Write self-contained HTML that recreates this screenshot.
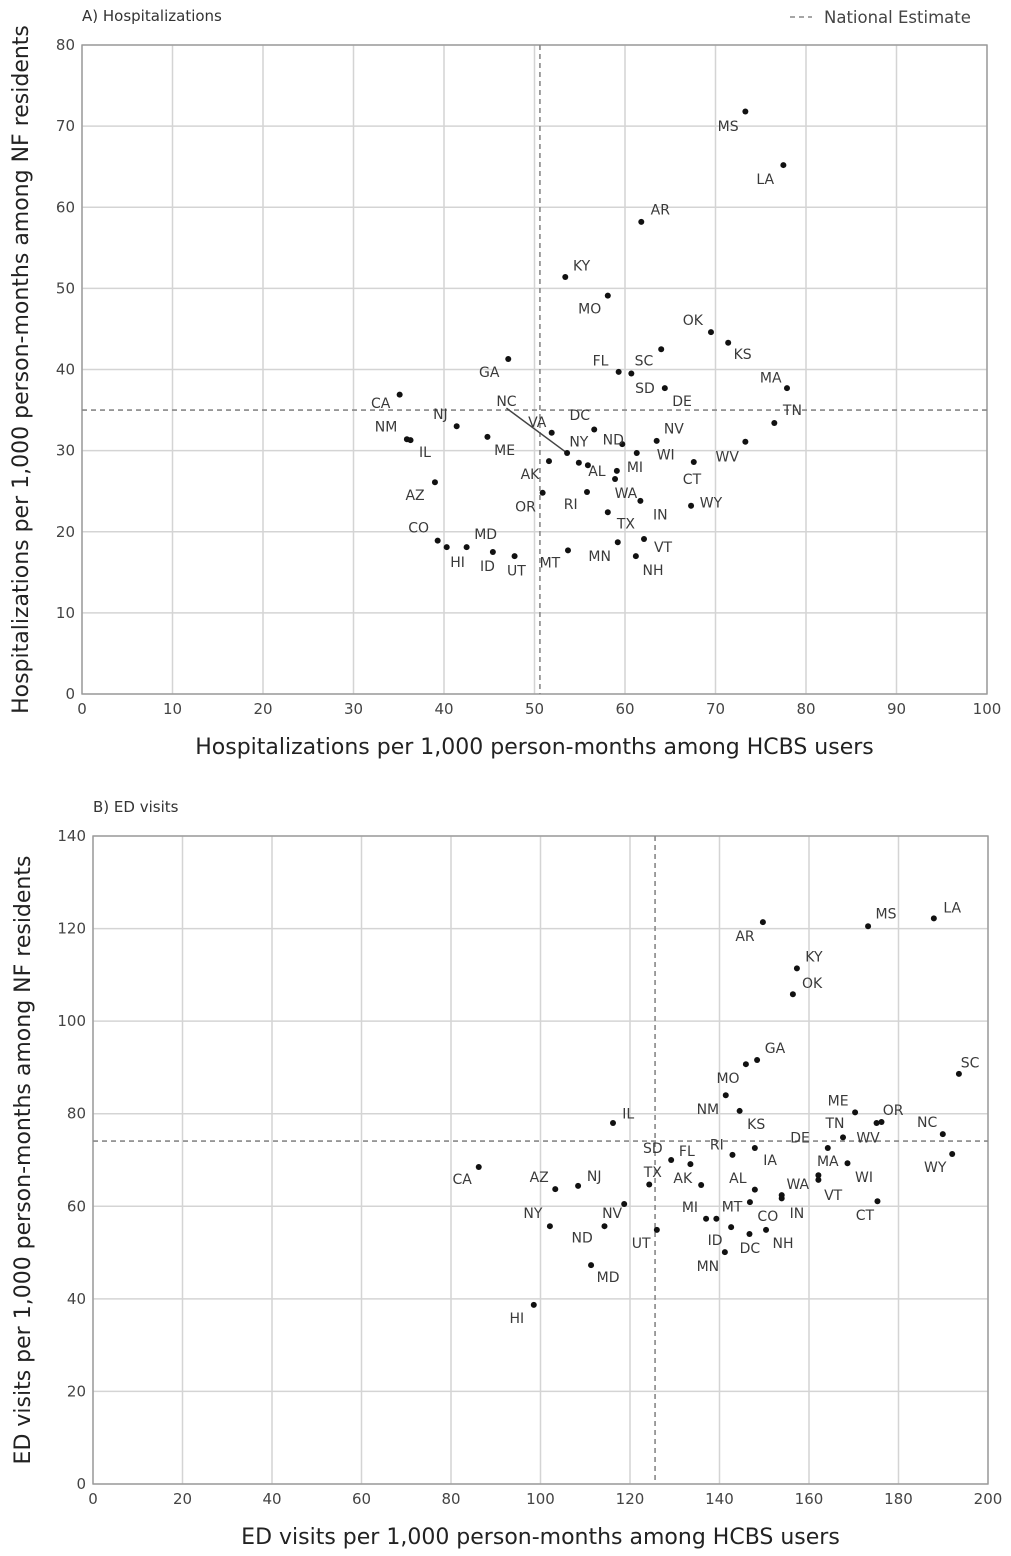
<!DOCTYPE html>
<html><head><meta charset="utf-8">
<style>
body{margin:0;background:#fff;}
svg{display:block;font-family:"DejaVu Sans","Liberation Sans",sans-serif;}
</style></head>
<body>
<svg id="chart" width="1011" height="1556" viewBox="0 0 1011 1556"></svg>
<script>
// ---------- Panel A data ----------
const statesA = ["MS","LA","AR","KY","MO","OK","KS","GA","SC","FL","SD","DE","MA","TN","WV","CA","NJ","NM","IL","NC","VA","DC","ND","NV","ME","WI","NY","AL","AK","MI","WA","IN","CT","AZ","OR","RI","WY","TX","CO","HI","MD","ID","UT","MT","MN","VT","NH"];
const hcbsA = [73.3,77.5,61.8,53.4,58.1,69.5,71.4,47.1,64.0,59.3,60.7,64.4,77.9,76.5,73.3,35.1,41.4,35.9,36.3,53.6,51.9,56.6,59.7,63.5,44.8,61.3,54.9,55.9,51.6,59.1,58.9,61.7,67.6,39.0,50.9,55.8,67.3,58.1,39.3,40.3,42.5,45.4,47.8,53.7,59.2,62.1,61.2];
const nfA = [71.8,65.2,58.2,51.4,49.1,44.6,43.3,41.3,42.5,39.7,39.5,37.7,37.7,33.4,31.1,36.9,33.0,31.4,31.3,29.7,32.2,32.6,30.8,31.2,31.7,29.7,28.5,28.2,28.7,27.5,26.5,23.8,28.6,26.1,24.8,24.9,23.2,22.4,18.9,18.1,18.1,17.5,17.0,17.7,18.7,19.1,17.0];
const labelXA = [71.4,75.5,63.9,55.2,56.1,67.5,73.0,45.0,62.1,57.3,62.2,66.3,76.1,78.5,71.3,33.0,39.6,33.6,37.9,46.9,50.3,55.0,58.7,65.4,46.7,64.5,54.9,56.9,49.5,61.1,60.1,63.9,67.4,36.8,49.0,54.0,69.5,60.1,37.2,41.5,44.6,44.8,48.0,51.7,57.2,64.2,63.1];
const labelYA = [70.0,63.5,59.7,52.8,47.5,46.1,41.9,39.7,41.1,41.1,37.7,36.1,39.0,35.0,29.3,35.9,34.5,33.0,29.8,36.1,33.5,34.4,31.4,32.7,30.1,29.5,31.1,27.5,27.1,28.0,24.8,22.1,26.5,24.5,23.1,23.4,23.6,21.0,20.5,16.3,19.7,15.8,15.2,16.2,17.0,18.1,15.3];
const nationalA = [50.6, 35.0];
const xTicksA = [0,10,20,30,40,50,60,70,80,90,100];
const yTicksA = [0,10,20,30,40,50,60,70,80];

// ---------- Panel B data ----------
const statesB = ["LA","MS","AR","KY","OK","GA","MO","SC","NM","KS","IL","ME","OR","WV","NC","WY","TN","DE","IA","RI","SD","FL","MA","CA","AZ","NJ","TX","AK","CO","AL","WA","VT","IN","WI","CT","NV","NY","ND","UT","MI","ID","MT","NH","DC","MN","MD","HI"];
const hcbsB = [187.9,173.2,149.7,157.3,156.4,148.4,145.9,193.5,141.4,144.5,116.2,170.3,175.1,176.2,189.9,192.0,167.6,164.2,147.9,142.9,129.2,133.5,168.6,86.2,103.3,108.4,124.3,135.9,147.9,146.8,162.1,162.1,153.9,153.9,175.3,118.7,102.1,114.3,126.0,137.0,139.3,142.6,150.4,146.7,141.2,111.3,98.5];
const nfB = [122.2,120.5,121.4,111.4,105.8,91.6,90.7,88.6,84.0,80.6,78.0,80.3,78.0,78.2,75.6,71.3,74.9,72.6,72.6,71.1,70.0,69.1,69.3,68.5,63.7,64.4,64.7,64.6,63.6,60.9,66.7,65.7,62.4,61.7,61.1,60.5,55.7,55.7,54.9,57.3,57.3,55.5,54.9,54.0,50.1,47.3,38.7];
const labelXB = [192.0,177.2,145.7,161.1,160.7,152.4,141.9,196.0,137.4,148.2,119.6,166.5,178.8,173.2,186.4,188.2,165.8,158.0,151.3,139.4,125.1,132.7,164.2,82.5,99.7,112.0,125.1,131.8,150.8,144.1,157.5,165.4,157.3,172.3,172.5,116.0,98.3,109.3,122.5,133.4,139.0,142.8,154.2,146.8,137.4,115.1,94.7];
const labelYB = [124.6,123.3,118.4,114.0,108.2,94.2,87.7,91.1,81.0,77.8,80.1,82.9,80.8,74.9,78.2,68.5,78.0,74.9,70.0,73.4,72.6,71.9,69.8,65.9,66.3,66.5,67.4,66.1,57.9,66.1,64.8,62.4,58.5,66.3,58.1,58.5,58.5,53.3,52.1,59.8,52.7,60.0,52.1,51.0,47.1,44.7,35.9];
const nationalB = [125.6, 74.1];
const xTicksB = [0,20,40,60,80,100,120,140,160,180,200];
const yTicksB = [0,20,40,60,80,100,120,140];

const NS = "http://www.w3.org/2000/svg";
const svg = document.getElementById("chart");
function mk(tag, attrs, parent){
  const e = document.createElementNS(NS, tag);
  for (const k in attrs) e.setAttribute(k, attrs[k]);
  (parent||svg).appendChild(e);
  return e;
}

function panel(cfg){
  const g = mk("g", {});
  
  
  const L=cfg.left,R=cfg.right,T=cfg.top,B=cfg.bottom;
  const sx = v => L + (v - cfg.xMin)/(cfg.xMax-cfg.xMin)*(R-L);
  const sy = v => B - (v - cfg.yMin)/(cfg.yMax-cfg.yMin)*(B-T);
  cfg.xTicks.forEach(t=>{
    const l = mk("line",{x1:sx(t),x2:sx(t),y1:T,y2:B,stroke:"#d4d4d4","stroke-width":1.5},g);
    
    
    const tx = mk("text",{x:sx(t),y:B+20,"text-anchor":"middle","font-size":15,fill:"#444"},g);
    tx.textContent = t;
    
    
  });
  cfg.yTicks.forEach(t=>{
    const l = mk("line",{x1:L,x2:R,y1:sy(t),y2:sy(t),stroke:"#d4d4d4","stroke-width":1.5},g);
    
    
    const tx = mk("text",{x:L-7,y:sy(t)+5,"text-anchor":"end","font-size":15,fill:"#444"},g);
    tx.textContent = t;
    
    
  });
  const fr = mk("rect",{x:L,y:T,width:R-L,height:B-T,fill:"none",stroke:"#999","stroke-width":1.4},g);
  
  
  const vl = mk("line",{x1:sx(cfg.nat[0]),x2:sx(cfg.nat[0]),y1:T,y2:B,stroke:"#888","stroke-width":1.6,"stroke-dasharray":"5,4"},g);
  
  
  const hl = mk("line",{x1:L,x2:R,y1:sy(cfg.nat[1]),y2:sy(cfg.nat[1]),stroke:"#888","stroke-width":1.6,"stroke-dasharray":"5,4"},g);
  
  
  cfg.leaders.forEach(st=>{
    const i = cfg.states.indexOf(st);
    const ln = mk("line",{x1:sx(cfg.lx[i]),y1:sy(cfg.ly[i])+7,x2:sx(cfg.xs[i]),y2:sy(cfg.ys[i]),stroke:"#444","stroke-width":1.5},g);
    
    
  });
  cfg.states.forEach((st,i)=>{
    const c = mk("circle",{cx:sx(cfg.xs[i]),cy:sy(cfg.ys[i]),r:3,fill:"#111"},g);
    
    
    const t = mk("text",{x:sx(cfg.lx[i]),y:sy(cfg.ly[i])+5,"text-anchor":"middle","font-size":14,fill:"#3a3a3a"},g);
    t.textContent = st;
    
    
  });
  const pt = mk("text",{x:L,y:T-24,"font-size":15,fill:"#333"},g);
  pt.textContent = cfg.title;
  
  
  const xt = mk("text",{x:(L+R)/2,y:cfg.xTitleY,"text-anchor":"middle","font-size":22,fill:"#222"},g);
  xt.textContent = cfg.xTitle;
  
  
  const yc = (T+B)/2;
  const yt = mk("text",{x:0,y:0,"text-anchor":"middle","font-size":22,fill:"#222",transform:`translate(${cfg.yTitleX},${yc}) rotate(-90)`},g);
  yt.textContent = cfg.yTitle;
  
  
}

panel({name:"panel-a-hospitalizations",left:82,right:987,top:45,bottom:694,xMin:0,xMax:100,yMin:0,yMax:80,
  xTicks:xTicksA,yTicks:yTicksA,states:statesA,xs:hcbsA,ys:nfA,lx:labelXA,ly:labelYA,nat:nationalA,leaders:["NC"],
  title:"A) Hospitalizations",xTitle:"Hospitalizations per 1,000 person-months among HCBS users",xTitleY:754,
  yTitle:"Hospitalizations per 1,000 person-months among NF residents",yTitleX:28});
panel({name:"panel-b-ed-visits",left:93,right:988,top:836,bottom:1484,xMin:0,xMax:200,yMin:0,yMax:140,
  xTicks:xTicksB,yTicks:yTicksB,states:statesB,xs:hcbsB,ys:nfB,lx:labelXB,ly:labelYB,nat:nationalB,leaders:[],
  title:"B) ED visits",xTitle:"ED visits per 1,000 person-months among HCBS users",xTitleY:1544,
  yTitle:"ED visits per 1,000 person-months among NF residents",yTitleX:30});

const lg = mk("g",{});


const ll = mk("line",{x1:790,x2:812,y1:17,y2:17,stroke:"#888","stroke-width":1.6,"stroke-dasharray":"5,4"},lg);


const lt = mk("text",{x:824,y:23,"font-size":16.5,fill:"#444"},lg);
lt.textContent = "National Estimate";


</script>
</body></html>
